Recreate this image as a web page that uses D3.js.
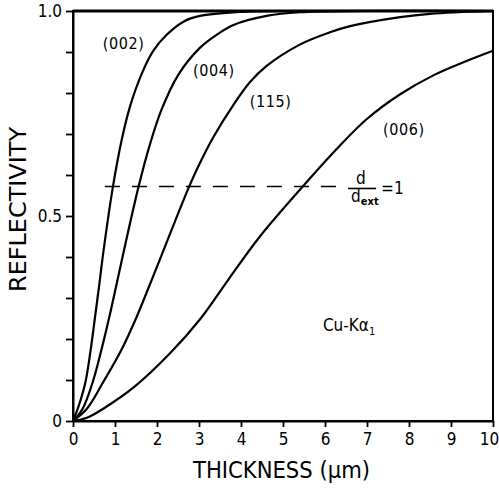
<!DOCTYPE html>
<html>
<head>
<meta charset="utf-8">
<script src="https://cdn.jsdelivr.net/npm/d3@7"></script>
<style>
  html, body { margin: 0; padding: 0; background: #fff; }
  svg { display: block; }
  text { font-family: "Liberation Sans Narrow", "DejaVu Sans Condensed", "Liberation Sans", sans-serif; fill: #000; }
</style>
</head>
<body>
<svg id="chart" width="499" height="490"></svg>
<script>
// Reflectivity versus crystal thickness for four reflections (Cu-Kα1)
const reflections = ["(002)", "(004)", "(115)", "(006)"];

// thickness in µm, reflectivity as fraction
const r002 = [[0,0],[0.13,0.035],[0.29,0.092],[0.42,0.173],[0.52,0.25],[0.63,0.336],[0.72,0.41],[0.95,0.571],[1.16,0.686],[1.36,0.768],[1.64,0.848],[1.91,0.903],[2.23,0.942],[2.63,0.974],[3.02,0.988],[4,0.998],[5,1.0],[10,1.0]];
const r004 = [[0,0],[0.23,0.03],[0.47,0.095],[0.68,0.175],[0.87,0.256],[1.04,0.335],[1.2,0.41],[1.56,0.571],[1.83,0.674],[2.11,0.76],[2.51,0.845],[3.02,0.91],[3.42,0.942],[3.82,0.966],[4.61,0.988],[5.4,0.997],[7,1.0],[10,1.0]];
const r115 = [[0,0],[0.33,0.03],[0.72,0.095],[1.16,0.175],[1.52,0.255],[1.83,0.333],[2.15,0.415],[2.77,0.573],[3.06,0.637],[3.34,0.692],[3.82,0.771],[4.21,0.826],[4.61,0.866],[5.4,0.918],[6.12,0.948],[6.6,0.963],[7.79,0.985],[8.5,0.993],[10,1.0]];
const r006 = [[0,0],[0.33,0.008],[0.72,0.03],[1.48,0.085],[2.31,0.165],[3.04,0.25],[3.7,0.345],[4.45,0.45],[5.48,0.573],[6.2,0.655],[6.99,0.736],[7.79,0.797],[8.58,0.843],[9.37,0.878],[10,0.903]];
const seriesData = [r002, r004, r115, r006];

// reflectivity at d = d_ext
const extinctionLevel = 0.572;
const extinctionSpan = [0.76, 6.4];

const xTickValues = [0,1,2,3,4,5,6,7,8,9,10];
const yTickValues = [0,0.1,0.2,0.3,0.4,0.5,0.6,0.7,0.8,0.9,1.0];
const yTickLabels = {0: "0", 0.5: "0.5", 1: "1.0"};

const svg = d3.select("#chart");
const W = 499, H = 490;
const margin = {left: 73, top: 11, right: 6, bottom: 69};

const x = d3.scaleLinear().domain([0, 10]).range([margin.left, W - margin.right]);
const y = d3.scaleLinear().domain([0, 1]).range([H - margin.bottom, margin.top]);

// frame
svg.append("rect")
  .attr("x", x(0)).attr("y", y(1))
  .attr("width", x(10) - x(0)).attr("height", y(0) - y(1))
  .attr("fill", "none").attr("stroke", "#000").attr("stroke-width", 2);
svg.append("line")
  .attr("x1", x(0)).attr("x2", x(10)).attr("y1", y(1)).attr("y2", y(1))
  .attr("stroke", "#000").attr("stroke-width", 3);

// axes
const xAxis = svg.append("g")
  .attr("transform", `translate(0,${y(0)})`)
  .call(d3.axisBottom(x).tickValues(xTickValues).tickSize(6).tickSizeOuter(0).tickPadding(6).tickFormat(d3.format("d")));
const yAxis = svg.append("g")
  .attr("transform", `translate(${x(0)},0)`)
  .call(d3.axisLeft(y).tickValues(yTickValues).tickSize(7).tickSizeOuter(0).tickPadding(4)
    .tickFormat(d => yTickLabels[Math.round(d * 10) / 10] || ""));
[xAxis, yAxis].forEach(g => {
  g.select(".domain").attr("stroke", "#000").attr("stroke-width", 2);
  g.selectAll(".tick line").attr("stroke", "#000").attr("stroke-width", 1.8);
  g.selectAll(".tick text").attr("font-size", 17).attr("fill", "#000")
    .style("font-family", "'Liberation Sans Narrow','DejaVu Sans Condensed',sans-serif");
});
// keep the last thickness label inside the page
xAxis.selectAll(".tick text").filter(d => d === 10).attr("dx", -4);

// curves
const line = d3.line().x(d => x(d[0])).y(d => y(d[1])).curve(d3.curveCatmullRom.alpha(0.5));
svg.append("g").selectAll("path").data(seriesData).join("path")
  .attr("d", line)
  .attr("fill", "none").attr("stroke", "#000").attr("stroke-width", 2.2);

// extinction-thickness marker
svg.append("line")
  .attr("x1", x(extinctionSpan[0])).attr("x2", x(extinctionSpan[1]))
  .attr("y1", y(extinctionLevel)).attr("y2", y(extinctionLevel))
  .attr("stroke", "#000").attr("stroke-width", 1.5).attr("stroke-dasharray", "15,12");

const fx = x(6.55);
const fy = y(extinctionLevel) + 2;
svg.append("line").attr("x1", fx).attr("x2", fx + 28).attr("y1", fy).attr("y2", fy)
  .attr("stroke", "#000").attr("stroke-width", 1.6);
svg.append("text").attr("x", fx + 8).attr("y", fy - 4).attr("font-size", 17).text("d");
const den = svg.append("text").attr("x", fx + 3).attr("y", fy + 14).attr("font-size", 17);
den.append("tspan").text("d");
den.append("tspan").attr("font-size", 11).attr("dy", 3).attr("font-weight", "bold").text("ext");
svg.append("text").attr("x", fx + 33).attr("y", fy + 6).attr("font-size", 17).text("=1");

// series labels
const labelPos = [[0.71, 0.907], [2.86, 0.841], [4.21, 0.766], [7.38, 0.698]];
svg.append("g").selectAll("text").data(reflections).join("text")
  .attr("x", (d, i) => x(labelPos[i][0]))
  .attr("y", (d, i) => y(labelPos[i][1]))
  .attr("font-size", 16).attr("letter-spacing", 0.6)
  .text(d => d);

// radiation
const rad = svg.append("text").attr("x", x(5.95)).attr("y", y(0.22)).attr("font-size", 17);
rad.append("tspan").text("Cu-Kα");
rad.append("tspan").attr("font-size", 11).attr("dy", 4).text("1");

// axis titles
svg.append("text")
  .attr("transform", `translate(26,${(127 + 292) / 2}) rotate(-90)`)
  .attr("text-anchor", "middle").attr("font-size", 23)
  .attr("textLength", 165).attr("lengthAdjust", "spacingAndGlyphs")
  .text("REFLECTIVITY");
svg.append("text")
  .attr("x", (193 + 370) / 2).attr("y", 478)
  .attr("text-anchor", "middle").attr("font-size", 23)
  .attr("textLength", 177).attr("lengthAdjust", "spacingAndGlyphs")
  .text("THICKNESS (µm)");
</script>
</body>
</html>
